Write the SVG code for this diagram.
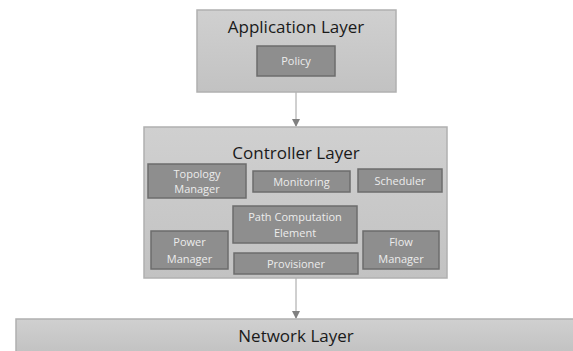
<svg xmlns="http://www.w3.org/2000/svg" width="573" height="351" viewBox="0 0 573 351">
<defs>
<linearGradient id="layerGrad" x1="0" y1="0" x2="0" y2="1">
<stop offset="0" stop-color="#d0d0d0"/>
<stop offset="1" stop-color="#c2c2c2"/>
</linearGradient>
<marker id="arrow" markerWidth="8" markerHeight="8" refX="7" refY="4" orient="auto" markerUnits="userSpaceOnUse">
<path d="M0,0 L8,4 L0,8 Z" fill="#808080"/>
</marker>
</defs>
<style>
.layer{fill:url(#layerGrad);stroke:#b0b0b0;stroke-width:1.5}
.comp{fill:#8e8e8e;stroke:#6c6c6c;stroke-width:1.5}
.title{font-family:"Open Sans","Liberation Sans",sans-serif;font-size:17px;fill:#1a1a1a;text-anchor:middle}
.lbl{font-family:"Open Sans","Liberation Sans",sans-serif;font-size:11px;fill:#ececec;text-anchor:middle}
.conn{stroke:#a0a0a0;stroke-width:1;fill:none}
</style>
<rect width="573" height="351" fill="#ffffff"/>
<g id="connectors">
<line class="conn" x1="296" y1="92" x2="296" y2="126" marker-end="url(#arrow)"/>
<line class="conn" x1="296" y1="278" x2="296" y2="318" marker-end="url(#arrow)"/>
</g>
<g id="application-layer">
<rect class="layer" x="197" y="10" width="199" height="82"/>
<text class="title" x="296" y="33">Application Layer</text>
</g>
<g id="policy">
<rect class="comp" x="257" y="46" width="78" height="30"/>
<text class="lbl" x="296" y="65">Policy</text>
</g>
<g id="controller-layer">
<rect class="layer" x="144" y="127" width="303" height="151"/>
<text class="title" x="296" y="159">Controller Layer</text>
</g>
<g id="topology-manager">
<rect class="comp" x="148" y="164" width="98" height="34"/>
<text class="lbl" x="197" y="178">Topology</text>
<text class="lbl" x="197" y="193">Manager</text>
</g>
<g id="monitoring">
<rect class="comp" x="253" y="171" width="97" height="21"/>
<text class="lbl" x="301.5" y="186">Monitoring</text>
</g>
<g id="scheduler">
<rect class="comp" x="358" y="169" width="84" height="23"/>
<text class="lbl" x="400" y="185">Scheduler</text>
</g>
<g id="path-computation-element">
<rect class="comp" x="233" y="206" width="124" height="37"/>
<text class="lbl" x="295" y="221">Path Computation</text>
<text class="lbl" x="295" y="237">Element</text>
</g>
<g id="power-manager">
<rect class="comp" x="151" y="231" width="77" height="38"/>
<text class="lbl" x="189.5" y="246">Power</text>
<text class="lbl" x="189.5" y="263">Manager</text>
</g>
<g id="provisioner">
<rect class="comp" x="234" y="253" width="124" height="21"/>
<text class="lbl" x="296" y="268">Provisioner</text>
</g>
<g id="flow-manager">
<rect class="comp" x="363" y="231" width="76" height="38"/>
<text class="lbl" x="401" y="246">Flow</text>
<text class="lbl" x="401" y="263">Manager</text>
</g>
<g id="network-layer">
<rect class="layer" x="16" y="319" width="560" height="34"/>
<text class="title" x="296" y="342">Network Layer</text>
</g>
</svg>
